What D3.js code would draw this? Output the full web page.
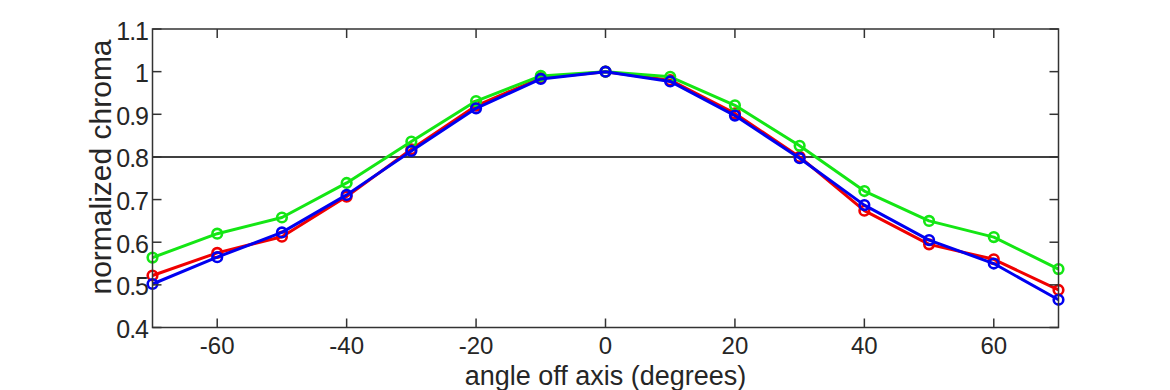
<!DOCTYPE html>
<html><head><meta charset="utf-8">
<script src="https://cdn.jsdelivr.net/npm/d3@7"></script>
<style>body{margin:0;background:#fff}svg{display:block}text{font-family:"Liberation Sans",Arial,Helvetica,sans-serif;fill:#262626}</style>
</head><body>
<svg id="c" width="1170" height="390"></svg>
<script>
const angles = [-70,-60,-50,-40,-30,-20,-10,0,10,20,30,40,50,60,70];
const redVals   = [0.522,0.575,0.613,0.707,0.818,0.920,0.985,1.0,0.980,0.902,0.800,0.674,0.595,0.560,0.488];
const greenVals = [0.564,0.620,0.658,0.739,0.836,0.931,0.990,1.0,0.988,0.921,0.826,0.720,0.650,0.612,0.537];
const blueVals  = [0.502,0.565,0.623,0.711,0.814,0.914,0.983,1.0,0.977,0.897,0.797,0.687,0.605,0.550,0.465];
const xTicks = [-60,-40,-20,0,20,40,60];
const yTicks = [0.4,0.5,0.6,0.7,0.8,0.9,1.0,1.1];
const yTickLabels = ["0.4","0.5","0.6","0.7","0.8","0.9","1","1.1"];
const threshold = 0.8;

const L=152.5,R=1058.5,T=29,B=327.5;
const svg=d3.select("#c");
const x=d3.scaleLinear().domain([-70,70]).range([L,R]);
const y=d3.scaleLinear().domain([0.4,1.1]).range([B,T]);

svg.append("line").attr("x1",L).attr("x2",R).attr("y1",y(threshold)).attr("y2",y(threshold))
  .attr("stroke","#000").attr("stroke-width",1.5);

const series=[{v:redVals,c:"#f00000"},{v:greenVals,c:"#14e614"},{v:blueVals,c:"#0000f0"}];
const line=d3.line().x((d,i)=>x(angles[i])).y(d=>y(d));
series.forEach(s=>{
  svg.append("path").attr("d",line(s.v)).attr("fill","none").attr("stroke",s.c).attr("stroke-width",3).attr("stroke-linejoin","round");
  svg.selectAll(null).data(s.v).enter().append("circle")
    .attr("cx",(d,i)=>x(angles[i])).attr("cy",d=>y(d)).attr("r",4.8)
    .attr("fill","none").attr("stroke",s.c).attr("stroke-width",2.6);
});

const tl=9;
const ax=svg.append("g").attr("stroke","#333").attr("stroke-width",1.5);
ax.append("rect").attr("x",L).attr("y",T).attr("width",R-L).attr("height",B-T).attr("fill","none");
xTicks.forEach(t=>{
  ax.append("line").attr("x1",x(t)).attr("x2",x(t)).attr("y1",B).attr("y2",B-tl);
  ax.append("line").attr("x1",x(t)).attr("x2",x(t)).attr("y1",T).attr("y2",T+tl);
});
yTicks.forEach(t=>{
  ax.append("line").attr("x1",L).attr("x2",L+tl).attr("y1",y(t)).attr("y2",y(t));
  ax.append("line").attr("x1",R).attr("x2",R-tl).attr("y1",y(t)).attr("y2",y(t));
});
svg.selectAll(null).data(xTicks).enter().append("text")
  .attr("x",d=>x(d)).attr("y",B+26.5).attr("text-anchor","middle").attr("font-size",24).text(d=>d);
svg.selectAll(null).data(yTicks).enter().append("text")
  .attr("x",L-4.5).attr("y",d=>y(d)+10.5).attr("text-anchor","end").attr("font-size",25).attr("letter-spacing",-1).text((d,i)=>yTickLabels[i]);
svg.append("text").attr("x",(L+R)/2).attr("y",385).attr("text-anchor","middle").attr("font-size",27).text("angle off axis (degrees)");
svg.append("text").attr("transform",`translate(111,167) rotate(-90)`).attr("text-anchor","middle").attr("font-size",30).text("normalized chroma");
</script>
</body></html>
